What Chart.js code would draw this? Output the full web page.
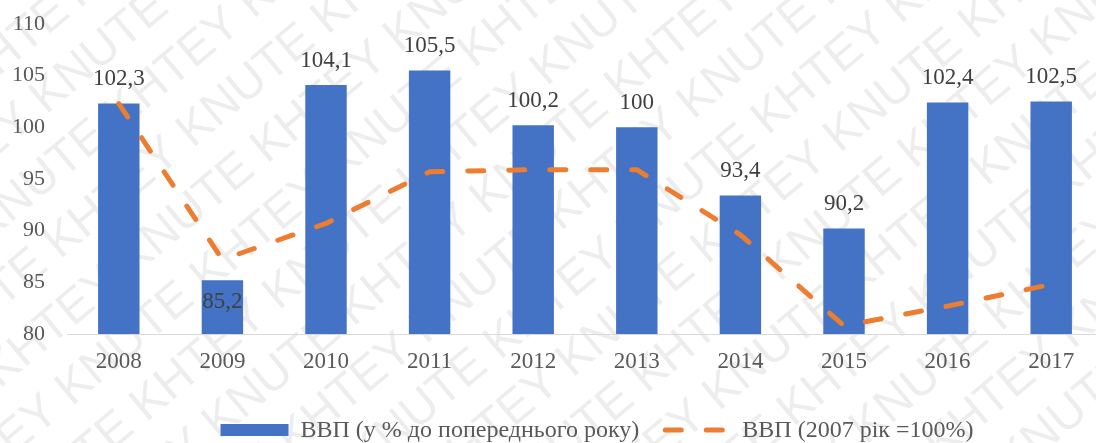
<!DOCTYPE html>
<html>
<head>
<meta charset="utf-8">
<script src="https://cdn.jsdelivr.net/npm/chart.js@4.4.1/dist/chart.umd.min.js"></script>
<style>
  html, body { margin: 0; padding: 0; background: #ffffff; overflow: hidden; }
  canvas { display: block; }
</style>
</head>
<body>
<canvas id="c" width="1104" height="443"></canvas>
<script>
// ---- data ----
const years = ['2008', '2009', '2010', '2011', '2012', '2013', '2014', '2015', '2016', '2017'];
const gdpYoY = [102.3, 85.2, 104.1, 105.5, 100.2, 100, 93.4, 90.2, 102.4, 102.5];
const gdpIndex2007 = [102.3, 87.2, 90.7, 95.7, 95.9, 95.9, 89.6, 80.8, 82.7, 84.8];
const seriesNames = ['ВВП (у % до попереднього року)', 'ВВП (2007 рік =100%)'];
const yTicks = [80, 85, 90, 95, 100, 105, 110];
const labelsInsideBar = ['2009'];
const watermarkText = 'KHTEY KNUTE';

const BLUE = '#4472C4';
const ORANGE = '#ED7D31';
const SERIF = '"Liberation Serif", "Times New Roman", serif';

const watermarkPlugin = {
  id: 'watermark',
  beforeDraw(chart) {
    const ctx = chart.ctx;
    ctx.save();
    ctx.fillStyle = '#ffffff';
    ctx.fillRect(0, 0, chart.width, chart.height);
    ctx.translate(chart.width / 2, chart.height / 2);
    ctx.rotate(-40 * Math.PI / 180);
    ctx.font = '48px "Liberation Sans", Arial, sans-serif';
    ctx.fillStyle = 'rgba(0,0,0,0.07)';
    ctx.textBaseline = 'middle';
    const unit = ctx.measureText(watermarkText + ' ').width;
    let line = '';
    for (let i = 0; i < 12; i++) line += watermarkText + ' ';
    for (let r = -12; r <= 12; r++) {
      const shift = ((r * 0.37) % 1) * unit;
      ctx.fillText(line, -unit * 5 - shift, r * 60);
    }
    ctx.restore();
  }
};

const valueLabelPlugin = {
  id: 'valueLabels',
  afterDatasetsDraw(chart) {
    const ctx = chart.ctx;
    const meta = chart.getDatasetMeta(0);
    ctx.save();
    ctx.font = '23px ' + SERIF;
    ctx.fillStyle = '#404040';
    ctx.textAlign = 'center';
    ctx.textBaseline = 'middle';
    meta.data.forEach((bar, i) => {
      const txt = String(gdpYoY[i]).replace('.', ',');
      const inside = labelsInsideBar.includes(years[i]);
      const y = inside ? bar.y + 21.5 : bar.y - 24.5;
      ctx.fillText(txt, bar.x, y);
    });
    ctx.restore();
  }
};

const legendPlugin = {
  id: 'customLegend',
  afterDraw(chart) {
    const ctx = chart.ctx;
    ctx.save();
    ctx.font = '24px ' + SERIF;
    const w1 = ctx.measureText(seriesNames[0]).width;
    const w2 = ctx.measureText(seriesNames[1]).width;
    const box = 68, gap = 12, itemGap = 23;
    const total = box + gap + w1 + itemGap + box + gap + w2;
    let x = 597 - total / 2;
    const cy = 430;
    ctx.fillStyle = BLUE;
    ctx.fillRect(x, cy - 6, box, 12);
    x += box + gap;
    ctx.fillStyle = '#595959';
    ctx.textBaseline = 'middle';
    ctx.textAlign = 'left';
    ctx.fillText(seriesNames[0], x, cy + 1);
    x += w1 + itemGap;
    ctx.strokeStyle = ORANGE;
    ctx.lineWidth = 5;
    ctx.lineCap = 'round';
    ctx.setLineDash([16, 25]);
    ctx.beginPath();
    ctx.moveTo(x + 3, cy);
    ctx.lineTo(x + box, cy);
    ctx.stroke();
    ctx.setLineDash([]);
    x += box + gap;
    ctx.fillText(seriesNames[1], x, cy + 1);
    ctx.restore();
  }
};

new Chart(document.getElementById('c'), {
  data: {
    labels: years,
    datasets: [
      {
        type: 'bar',
        label: seriesNames[0],
        data: gdpYoY,
        backgroundColor: BLUE,
        borderWidth: 0,
        barPercentage: 0.4,
        categoryPercentage: 1,
        order: 1
      },
      {
        type: 'line',
        label: seriesNames[1],
        data: gdpIndex2007,
        borderColor: ORANGE,
        borderWidth: 5,
        borderDash: [16, 25],
        borderCapStyle: 'round',
        borderJoinStyle: 'round',
        pointRadius: 0,
        pointHoverRadius: 0,
        tension: 0,
        fill: false,
        order: 0
      }
    ]
  },
  options: {
    responsive: false,
    animation: false,
    devicePixelRatio: 1,
    layout: { padding: { top: 24, right: 1, bottom: 67, left: 0 } },
    plugins: {
      legend: { display: false },
      tooltip: { enabled: false }
    },
    scales: {
      x: {
        type: 'category',
        offset: true,
        grid: { display: false, drawTicks: false },
        border: { display: true, color: '#d9d9d9', width: 1 },
        afterFit(scale) { scale.height = 42; scale.paddingLeft = 0; scale.paddingRight = 0; },
        ticks: {
          font: { family: SERIF, size: 23 },
          color: '#595959',
          padding: 14,
          maxRotation: 0
        }
      },
      y: {
        min: yTicks[0],
        max: yTicks[yTicks.length - 1],
        grid: { display: false, drawTicks: false },
        border: { display: false },
        afterBuildTicks(scale) { scale.ticks = yTicks.map(v => ({ value: v })); },
        afterFit(scale) { scale.width = 67; scale.paddingTop = 0; scale.paddingBottom = 0; },
        ticks: {
          font: { family: SERIF, size: 22 },
          color: '#595959',
          padding: 22
        }
      }
    }
  },
  plugins: [watermarkPlugin, valueLabelPlugin, legendPlugin]
});
</script>
</body>
</html>
